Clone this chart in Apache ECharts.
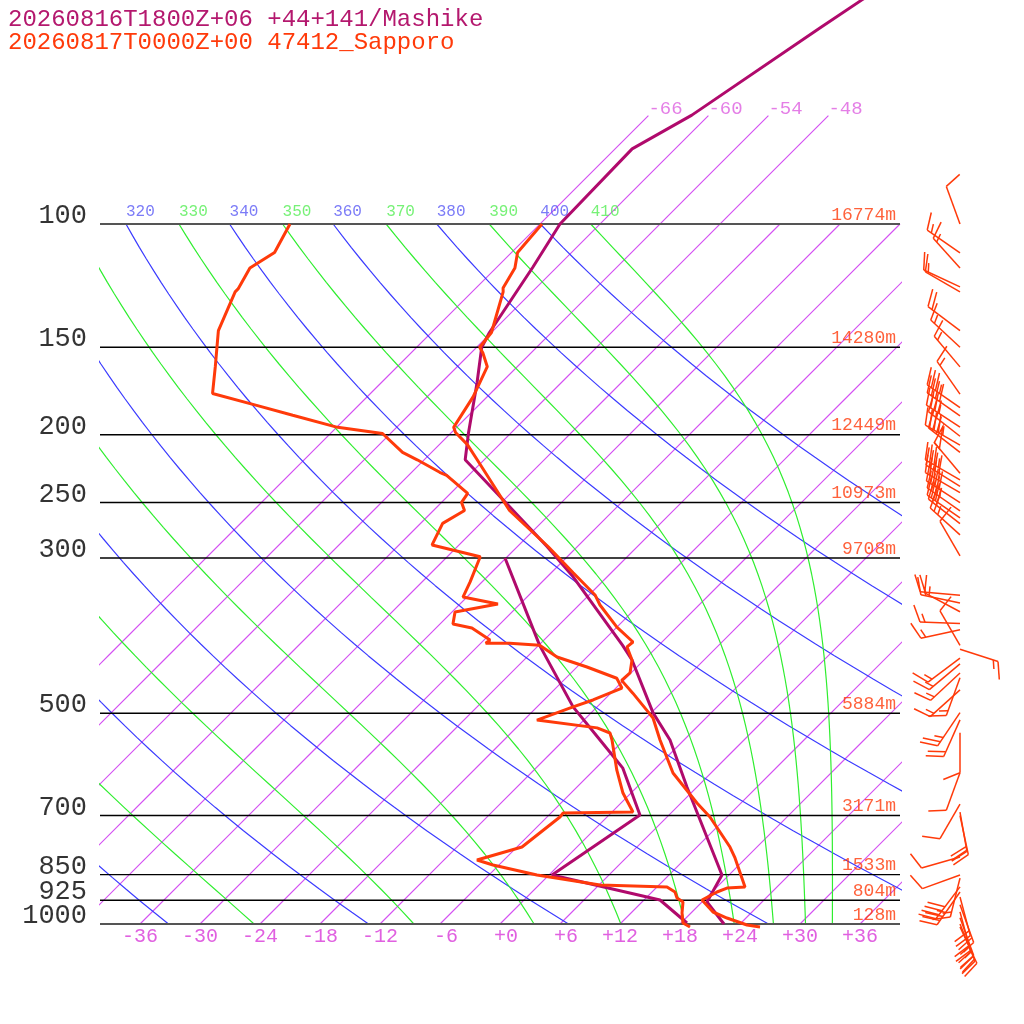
<!DOCTYPE html>
<html>
<head>
<meta charset="utf-8">
<script src="https://cdn.jsdelivr.net/npm/echarts@6/dist/echarts.min.js"></script>
<style>
html,body{margin:0;padding:0;background:#fff;}
#chart{width:1024px;height:1024px;}
</style>
</head>
<body>
<div id="chart"></div>
<script>
// pressure levels (hPa) and their heights in the Sapporo sounding
var pLevels = [100, 150, 200, 250, 300, 500, 700, 850, 925, 1000];
var heights = ['16774m', '14280m', '12449m', '10973m', '9708m', '5884m', '3171m', '1533m', '804m', '128m'];
var xTicks = [-36, -30, -24, -18, -12, -6, 0, 6, 12, 18, 24, 30, 36];

// background lines
var isotherms = [-66, -60, -54, -48, -42, -36, -30, -24, -18, -12, -6, 0, 6, 12, 18, 24, 30, 36];
var isoLabeled = [-66, -60, -54, -48];
var dryTheta = [240, 260, 280, 300, 320, 340, 360, 380, 400];
var moistThetaE = [250, 270, 290, 310, 330, 350, 370, 390, 410];
var thetaLabeled = [320, 330, 340, 350, 360, 370, 380, 390, 400, 410];

// Sapporo 47412, temperature
var sapTP = [1009.9, 1003.3, 980.5, 961.3, 924.1, 900.1, 888.5, 885.4, 804.8, 776.3, 703.4, 671.7, 608.5, 545.9, 507.8, 497.7, 468.0, 448.7, 437.9, 419.6, 402.0, 395.5, 376.6, 350.2, 338.8, 315.0, 289.1, 276.1, 256.6, 217.2, 206.6, 198.5, 195.2, 176.6, 159.9, 152.9, 150.0, 142.9, 125.0, 123.4, 115.6, 109.8, 100.0];
var sapTT = [26.3, 24.8, 22.1, 20.1, 17.8, 18.5, 19.1, 20.8, 16.9, 15.3, 10.3, 7.6, 2.2, -2.4, -5.3, -6.4, -9.8, -12.2, -12.1, -13.2, -15.0, -14.9, -18.0, -21.9, -23.4, -27.8, -32.9, -35.8, -40.4, -48.7, -51.2, -53.6, -54.3, -55.4, -57.0, -58.8, -59.7, -60.0, -62.9, -63.3, -64.1, -65.4, -65.8];
// Sapporo 47412, dew point
var sapDP = [1009.9, 996.7, 964.4, 930.2, 918.0, 900.1, 885.4, 879.6, 851.2, 823.6, 810.2, 776.3, 703.4, 694.2, 691.9, 650.0, 602.9, 545.9, 533.5, 524.6, 511.3, 489.6, 478.6, 460.2, 445.6, 429.4, 415.5, 399.9, 397.2, 397.2, 392.9, 377.8, 372.8, 358.3, 349.1, 341.1, 324.5, 298.8, 287.4, 267.7, 256.6, 249.9, 242.5, 228.6, 226.3, 217.2, 212.0, 199.2, 195.2, 187.6, 181.6, 174.6, 159.9, 142.0, 125.0, 123.8, 115.6, 109.8, 100.0];
var sapDT = [19.3, 18.2, 17.1, 16.1, 15.1, 14.3, 13.0, 6.1, -1.2, -6.6, -8.7, -5.5, -4.7, -4.8, 2.1, -0.8, -3.7, -7.2, -8.1, -9.9, -16.7, -14.4, -13.1, -11.4, -12.9, -17.0, -21.0, -23.9, -27.1, -29.5, -29.4, -32.4, -34.7, -35.7, -32.2, -36.4, -37.2, -38.7, -44.7, -45.8, -44.9, -46.0, -46.3, -50.2, -51.2, -54.7, -56.9, -60.8, -65.9, -71.6, -76.2, -81.8, -84.2, -87.5, -89.7, -89.7, -90.6, -89.7, -91.0];
// Mashike forecast, temperature
var mashTP = [1000, 930.2, 851.2, 637.3, 545.9, 499.4, 419.6, 399.9, 319.2, 289.1, 250.7, 217.2, 198.5, 168.7, 150.0, 142.9, 115.2, 100.0, 78.1, 69.9, 52.5, 47.8, 44.0];
var mashTT = [22.4, 18.5, 17.3, 5.0, -1.4, -5.8, -13.2, -15.6, -27.4, -33.0, -41.4, -49.9, -52.3, -56.4, -59.5, -60.2, -62.4, -64.0, -64.3, -61.7, -57.6, -56.2, -55.0];
// Mashike forecast, dew point
var mashDP = [996.7, 924.1, 851.2, 698.8, 598.9, 545.9, 489.6, 399.9, 300.0];
var mashDT = [18.6, 13.6, 0.3, 3.1, -3.3, -8.4, -14.4, -23.9, -36.1];

// Sapporo winds: pressure, direction (deg), speed (kt)
var windP = [100, 110, 115.6, 123, 125, 142, 150, 160, 175, 183, 188, 195, 201, 207, 212, 227, 232, 237, 242, 250, 257, 263, 268, 278, 298,
             339, 348, 358, 372, 380, 400, 405, 417, 425, 438, 445, 463, 499, 511, 533, 608, 674, 692, 700,
             802, 851, 860, 885, 900, 915, 939, 961, 980, 1000, 1010];
var windDir = [340, 305, 318, 295, 300, 307, 313, 320, 325, 305, 305, 303, 308, 300, 308, 320, 300, 302, 300, 303, 305, 305, 308, 312, 330,
               275, 282, 298, 272, 258, 330, 108, 233, 230, 227, 200, 228, 214, 204, 180, 200, 210, 170, 168,
               254, 250, 194, 217, 215, 165, 160, 165, 160, 158, 155];
var windSpd = [10, 15, 15, 15, 10, 20, 15, 15, 15, 35, 40, 35, 30, 45, 30, 50, 35, 40, 35, 40, 35, 30, 30, 25, 10,
               20, 15, 15, 15, 15, 10, 15, 15, 15, 15, 15, 15, 25, 20, 10, 10, 10, 20, 20,
               10, 10, 15, 40, 35, 20, 20, 20, 25, 25, 20];

var SKEW = 30.4;
var P_TOP = 1000 / Math.pow(10, 924 / 700);
var BARB_X = 46;
var FONT = '"Liberation Mono", "DejaVu Sans Mono", monospace';
var RED = '#ff3a0a';
var PURPLE = '#b00a6c';
var ISO_COLOR = '#d452f2';
var DRY_COLOR = '#3c3cff';
var MOIST_COLOR = '#30ee30';

function skewX(t, p) {
    return t + SKEW * Math.log(1000 / p);
}

function thetaE(tc, p) {
    var tk = tc + 273.15;
    var es = 6.112 * Math.exp(17.67 * tc / (tc + 243.5));
    var r = 622 * es / (p - es);
    return tk * Math.pow(1000 / p, 0.2854 * (1 - 0.00028 * r)) *
        Math.exp((3.376 / tk - 0.00254) * r * (1 + 0.00081 * r));
}

function moistT(te, p) {
    var lo = -130, hi = 40;
    for (var k = 0; k < 60; k++) {
        var mid = (lo + hi) / 2;
        if (thetaE(mid, p) > te) hi = mid; else lo = mid;
    }
    return (lo + hi) / 2;
}

function pSteps(pEnd, n) {
    var res = [];
    for (var i = 0; i <= n; i++) res.push(1000 * Math.pow(pEnd / 1000, i / n));
    return res;
}

function profile(ps, ts) {
    var res = [];
    for (var i = 0; i < ps.length; i++) res.push([skewX(ts[i], ps[i]), ps[i]]);
    return res;
}

function gridLine(data, color, width) {
    return {
        type: 'line', data: data, symbol: 'none', silent: true, z: 1,
        color: color, itemStyle: {color: color},
        lineStyle: {color: color, width: width || 1.2, opacity: 1}
    };
}

function renderBarb(params, api) {
    var pt = api.coord([api.value(0), api.value(1)]);
    var dir = api.value(2) * Math.PI / 180;
    var spd = api.value(3);
    var ux = Math.sin(dir), uy = -Math.cos(dir);
    var L = 40;
    var tip = [pt[0] + ux * L, pt[1] + uy * L];
    var fa = Math.PI / 2 - dir - 68 * Math.PI / 180;
    var fx = Math.cos(fa), fy = -Math.sin(fa);
    var st = {stroke: RED, lineWidth: 1.5};
    var kids = [{type: 'line', shape: {x1: pt[0], y1: pt[1], x2: tip[0], y2: tip[1]}, style: st}];
    var s = Math.round(spd / 5) * 5;
    var d = 0;
    while (s >= 50) {
        var a = [tip[0] - ux * d, tip[1] - uy * d];
        var b = [tip[0] - ux * (d + 8), tip[1] - uy * (d + 8)];
        kids.push({type: 'polygon', shape: {points: [a, [a[0] + fx * 18, a[1] + fy * 18], b]},
            style: {fill: 'none', stroke: RED, lineWidth: 1.5}});
        d += 10;
        s -= 50;
    }
    while (s >= 10) {
        var c = [tip[0] - ux * d, tip[1] - uy * d];
        kids.push({type: 'line', shape: {x1: c[0], y1: c[1], x2: c[0] + fx * 18, y2: c[1] + fy * 18}, style: st});
        d += 5;
        s -= 10;
    }
    if (s >= 5) {
        if (d === 0) d = 5;
        var h = [tip[0] - ux * d, tip[1] - uy * d];
        kids.push({type: 'line', shape: {x1: h[0], y1: h[1], x2: h[0] + fx * 9, y2: h[1] + fy * 9}, style: st});
    }
    return {type: 'group', children: kids};
}

var series = [];
var ps = pSteps(100, 60);

// isotherms
isotherms.forEach(function (t) {
    var pEnd = isoLabeled.indexOf(t) >= 0 ? 70 : 100;
    var d = pSteps(pEnd, 12).map(function (p) { return [skewX(t, p), p]; });
    series.push(gridLine(d, ISO_COLOR, 1.2));
});
// dry adiabats
var thetaPos = {};
dryTheta.forEach(function (th) {
    var d = ps.map(function (p) { return [skewX(th * Math.pow(p / 1000, 0.2857) - 273.15, p), p]; });
    thetaPos[th] = d[d.length - 1][0];
    series.push(gridLine(d, DRY_COLOR));
});
// moist adiabats
moistThetaE.forEach(function (te) {
    var d = ps.map(function (p) { return [skewX(moistT(te, p), p), p]; });
    thetaPos[te] = d[d.length - 1][0];
    series.push(gridLine(d, MOIST_COLOR));
});

// pressure lines
pLevels.forEach(function (p) {
    var edge = (p === 100 || p === 1000);
    series.push({
        type: 'line', data: [[-40, p], [40, p]], symbol: 'none', silent: true, z: 2,
        color: '#000',
        lineStyle: {color: edge ? '#555' : '#000', width: edge ? 2 : 1.4}
    });
});

// labels
series.push({
    type: 'scatter', symbolSize: 0, silent: true, z: 5,
    data: pLevels.map(function (p) { return {value: [-40, p], name: String(p)}; }),
    label: {show: true, position: 'left', distance: 13, offset: [0, -8], formatter: '{b}',
        fontFamily: FONT, fontSize: 27, color: '#000'}
});
series.push({
    type: 'scatter', symbolSize: 0, silent: true, z: 5,
    data: pLevels.map(function (p, i) { return {value: [40, p], name: heights[i]}; }),
    label: {show: true, position: 'left', distance: 4, offset: [0, -9], formatter: '{b}',
        fontFamily: FONT, fontSize: 18, color: RED}
});
series.push({
    type: 'scatter', symbolSize: 0, silent: true, z: 5,
    data: isoLabeled.map(function (t) { return {value: [skewX(t, 70), 70], name: String(t)}; }),
    label: {show: true, position: 'right', distance: 0, offset: [0, -7], formatter: '{b}',
        fontFamily: FONT, fontSize: 19, color: '#dd5ee0'}
});
series.push({
    type: 'scatter', symbolSize: 0, silent: true, z: 5,
    data: thetaLabeled.map(function (th) {
        return {value: [thetaPos[th], 100], name: String(th),
            label: {color: th % 20 === 0 ? '#5a5af5' : '#55ee55'}};
    }),
    label: {show: true, position: 'right', distance: 0, offset: [0, -12], formatter: '{b}',
        fontFamily: FONT, fontSize: 16}
});

// soundings
function sounding(data, color) {
    return {
        type: 'line', data: data, symbol: 'none', clip: false, silent: true, z: 10,
        color: color, lineStyle: {color: color, width: 3}
    };
}
series.push(sounding(profile(mashTP, mashTT), PURPLE));
series.push(sounding(profile(mashDP, mashDT), PURPLE));
series.push(sounding(profile(sapTP, sapTT), RED));
series.push(sounding(profile(sapDP, sapDT), RED));

// wind barbs
series.push({
    type: 'custom', clip: false, silent: true, z: 8,
    renderItem: renderBarb,
    data: windP.map(function (p, i) { return [BARB_X, p, windDir[i], windSpd[i]]; })
});

var chart = echarts.init(document.getElementById('chart'));
chart.setOption({
    animation: false,
    backgroundColor: '#fff',
    title: [
        {text: '20260816T1800Z+06 +44+141/Mashike', left: 3, top: 3,
            textStyle: {fontFamily: FONT, fontSize: 24, fontWeight: 'normal', color: '#b4186e'}},
        {text: '20260817T0000Z+00 47412_Sapporo', left: 3, top: 26,
            textStyle: {fontFamily: FONT, fontSize: 24, fontWeight: 'normal', color: RED}}
    ],
    grid: {left: 100, right: 124, top: 0, bottom: 100},
    xAxis: {
        type: 'value', min: -40, max: 40,
        axisLine: {show: false}, axisTick: {show: false}, splitLine: {show: false},
        axisLabel: {
            customValues: xTicks, margin: 3, fontFamily: FONT, fontSize: 20, color: '#e060e0',
            formatter: function (v) {
                var s = (v >= 0 ? '+' : '') + v;
                while (s.length < 3) s = ' ' + s;
                return s;
            }
        }
    },
    yAxis: {
        type: 'log', min: P_TOP, max: 1000, inverse: true, show: false
    },
    series: series
});
</script>
</body>
</html>
